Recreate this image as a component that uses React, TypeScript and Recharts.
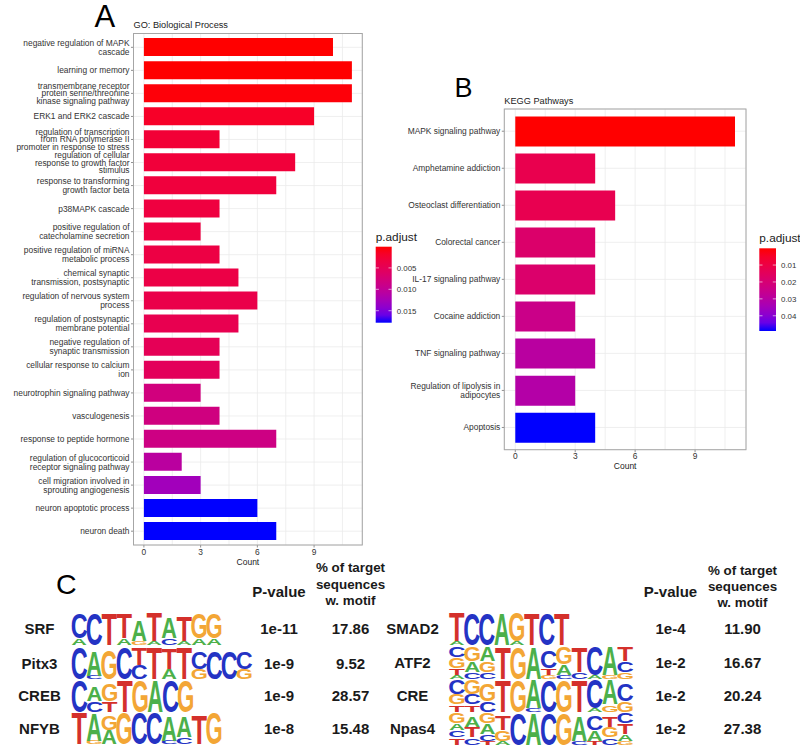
import React from "react"
import { BarChart, Bar, XAxis, YAxis, CartesianGrid, Cell } from "recharts"

// ---- GO: Biological Process ----
const goTerms = [
  "negative regulation of MAPK\ncascade",
  "learning or memory",
  "transmembrane receptor\nprotein serine/threonine\nkinase signaling pathway",
  "ERK1 and ERK2 cascade",
  "regulation of transcription\nfrom RNA polymerase II\npromoter in response to stress",
  "regulation of cellular\nresponse to growth factor\nstimulus",
  "response to transforming\ngrowth factor beta",
  "p38MAPK cascade",
  "positive regulation of\ncatecholamine secretion",
  "positive regulation of miRNA\nmetabolic process",
  "chemical synaptic\ntransmission, postsynaptic",
  "regulation of nervous system\nprocess",
  "regulation of postsynaptic\nmembrane potential",
  "negative regulation of\nsynaptic transmission",
  "cellular response to calcium\nion",
  "neurotrophin signaling pathway",
  "vasculogenesis",
  "response to peptide hormone",
  "regulation of glucocorticoid\nreceptor signaling pathway",
  "cell migration involved in\nsprouting angiogenesis",
  "neuron apoptotic process",
  "neuron death",
]
const goCounts = [10, 11, 11, 9, 4, 8, 7, 4, 3, 4, 5, 6, 5, 4, 4, 3, 4, 7, 2, 3, 6, 7]
const goPadj = [
  0.00005, 0.00005, 0.0003, 0.0017, 0.0026, 0.0029, 0.0031, 0.0033, 0.0035, 0.0036, 0.0038,
  0.0041, 0.0045, 0.005, 0.0053, 0.008, 0.0082, 0.0085, 0.0107, 0.0128, 0.0178, 0.0178,
]
const goBreaks = [0.005, 0.01, 0.015]
const goBreakLabels = ["0.005", "0.010", "0.015"]

// ---- KEGG Pathways ----
const keggTerms = [
  "MAPK signaling pathway",
  "Amphetamine addiction",
  "Osteoclast differentiation",
  "Colorectal cancer",
  "IL-17 signaling pathway",
  "Cocaine addiction",
  "TNF signaling pathway",
  "Regulation of lipolysis in\nadipocytes",
  "Apoptosis",
]
const keggCounts = [11, 4, 5, 4, 4, 3, 4, 3, 4]
const keggPadj = [0.0001, 0.012, 0.0125, 0.018, 0.0182, 0.0245, 0.0295, 0.031, 0.049]
const keggBreaks = [0.01, 0.02, 0.03, 0.04]
const keggBreakLabels = ["0.01", "0.02", "0.03", "0.04"]

const countTicks = [0, 3, 6, 9]
const gridTicks = [0, 1.5, 3, 4.5, 6, 7.5, 9, 10.5]

// ---- motif table ----
const motifNamesLeft = ["SRF", "Pitx3", "CREB", "NFYB"]
const motifPvalLeft = ["1e-11", "1e-9", "1e-9", "1e-8"]
const motifPctLeft = ["17.86", "9.52", "28.57", "15.48"]
const motifLogosLeft = [
  ["C7A2", "C9", "T9", "T7A2", "A6G1", "T8A1", "A6C2", "T7A1", "G7A2", "G7A2"],
  ["C9", "A7C1", "G8", "C9", "T5C4", "T9", "T6A3", "T9", "C5G3", "C8", "C8", "C5G3"],
  ["C9", "A4C3", "G5T3", "T9", "G9", "A9", "C9", "G9"],
  ["T9", "A8G1", "G4A4", "G9", "C9", "C9", "A7C1", "A6C2", "T8", "G9"],
]
const motifNamesRight = ["SMAD2", "ATF2", "CRE", "Npas4"]
const motifPvalRight = ["1e-4", "1e-2", "1e-2", "1e-2"]
const motifPctRight = ["11.90", "16.67", "20.24", "27.38"]
const motifLogosRight = [
  ["T8A1", "C9", "C9", "A9", "G8A1", "T9", "C9", "T9"],
  ["C3G3T2A1", "G4A3C2", "A4G3C2", "T9", "G9", "A9", "C5T2G1", "G5A3C1", "T7C2", "C8A1", "A8G1", "T4C3G2"],
  ["C4G3T2", "G4C3T2", "G5C3", "T9", "G9", "A8C1", "C9", "G9", "T9", "C8A1", "A7G2", "C5G3"],
  ["G3A2C2T2", "A3T3C2", "G3A3C2T1", "T4G3A1", "C9", "A9", "C9", "G9", "A7C1", "C4A3T1", "T3G3C2", "C3T3A2G1"],
]

const FONT = "'Liberation Sans', Arial, Helvetica, sans-serif"
const LETTER_COLORS: Record<string, string> = { A: "#4cb04a", C: "#2433c4", G: "#f3a635", T: "#d4302b" }
const LETTER_INK: Record<string, number> = { A: 6.9, C: 6.4, G: 6.8, T: 5.9 }

// ggplot-like red -> blue ramp interpolated in CIELAB
function toLin(c: number) {
  c /= 255
  return c <= 0.04045 ? c / 12.92 : Math.pow((c + 0.055) / 1.055, 2.4)
}
function fromLin(c: number) {
  const v = c <= 0.0031308 ? 12.92 * c : 1.055 * Math.pow(c, 1 / 2.4) - 0.055
  return Math.round(Math.max(0, Math.min(1, v)) * 255)
}
function rgbToLab(rgb: number[]) {
  const [r, g, b] = rgb.map(toLin)
  const X = (0.4124 * r + 0.3576 * g + 0.1805 * b) / 0.95047
  const Y = 0.2126 * r + 0.7152 * g + 0.0722 * b
  const Z = (0.0193 * r + 0.1192 * g + 0.9505 * b) / 1.08883
  const f = (t: number) => (t > 0.008856 ? Math.cbrt(t) : 7.787 * t + 16 / 116)
  const fx = f(X), fy = f(Y), fz = f(Z)
  return [116 * fy - 16, 500 * (fx - fy), 200 * (fy - fz)]
}
function labToRgb([L, a, b]: number[]) {
  const fy = (L + 16) / 116
  const fx = fy + a / 500
  const fz = fy - b / 200
  const inv = (t: number) => (t ** 3 > 0.008856 ? t ** 3 : (t - 16 / 116) / 7.787)
  const X = inv(fx) * 0.95047, Y = inv(fy), Z = inv(fz) * 1.08883
  const r = 3.2406 * X - 1.5372 * Y - 0.4986 * Z
  const g = -0.9689 * X + 1.8758 * Y + 0.0415 * Z
  const bb = 0.0557 * X - 0.204 * Y + 1.057 * Z
  return `rgb(${fromLin(r)},${fromLin(g)},${fromLin(bb)})`
}
const LAB_LOW = rgbToLab([255, 0, 0])
const LAB_HIGH = rgbToLab([0, 0, 255])
function ramp(t: number) {
  return labToRgb(LAB_LOW.map((v, i) => v + (LAB_HIGH[i] - v) * t))
}
function padjColor(p: number, all: number[]) {
  const lo = Math.min(...all), hi = Math.max(...all)
  return ramp((p - lo) / (hi - lo))
}

const YTick = (props: any) => {
  const { x, y, payload } = props
  const lines = String(payload.value).split("\n")
  const lh = lines.length > 2 ? 7.6 : 9
  return (
    <g>
      <line x1={x - 2.5} x2={x} y1={y} y2={y} stroke="#444" strokeWidth={0.6} />
      <text textAnchor="end" fontSize={8.4} fill="#333" fontFamily={FONT}>
        {lines.map((l, i) => (
          <tspan key={i} x={x - 4} y={y + (i - (lines.length - 1) / 2) * lh + 3}>
            {l}
          </tspan>
        ))}
      </text>
    </g>
  )
}

const XTick = (props: any) => {
  const { x, y, payload } = props
  if (!countTicks.includes(payload.value)) return <g />
  return (
    <g>
      <line x1={x} x2={x} y1={y} y2={y + 2.5} stroke="#444" strokeWidth={0.6} />
      <text x={x} y={y + 9.6} textAnchor="middle" fontSize={8.4} fill="#333" fontFamily={FONT}>
        {payload.value}
      </text>
    </g>
  )
}

type Plot = { x0: number; x1: number; y0: number; y1: number }

function EnrichBar(p: {
  terms: string[]
  counts: number[]
  padj: number[]
  left: number
  top: number
  width: number
  height: number
  plot: Plot
}) {
  const { terms, counts, padj, left, top, width, height, plot } = p
  const data = terms.map((t, i) => ({ term: t, count: counts[i], padj: padj[i] }))
  const pad = ((plot.y1 - plot.y0) * 0.1) / (terms.length + 0.2)
  return (
    <div style={{ position: "absolute", left, top, width, height }}>
      <BarChart
        width={width}
        height={height}
        data={data}
        layout="vertical"
        barCategoryGap="10%"
        margin={{ top: plot.y0 - top, right: left + width - plot.x1, bottom: 0, left: 0 }}
      >
        <CartesianGrid stroke="#ebebeb" strokeWidth={0.8} />
        <XAxis
          type="number"
          dataKey="count"
          domain={[-0.55, 11.55]}
          ticks={gridTicks}
          allowDataOverflow
          interval={0}
          height={top + height - plot.y1}
          axisLine={false}
          tickLine={false}
          tickSize={0}
          tickMargin={0}
          tick={<XTick />}
        />
        <YAxis
          type="category"
          dataKey="term"
          width={plot.x0 - left}
          interval={0}
          padding={{ top: pad, bottom: pad }}
          axisLine={false}
          tickLine={false}
          tickSize={0}
          tickMargin={0}
          tick={<YTick />}
        />
        <Bar dataKey="count" isAnimationActive={false}>
          {data.map((d) => (
            <Cell key={d.term} fill={padjColor(d.padj, padj)} />
          ))}
        </Bar>
      </BarChart>
    </div>
  )
}

function ColorBar(p: {
  id: string
  x: number
  y: number
  w: number
  h: number
  padj: number[]
  breaks: number[]
  labels: string[]
}) {
  const { id, x, y, w, h, padj, breaks, labels } = p
  const lo = Math.min(...padj), hi = Math.max(...padj)
  const stops = Array.from({ length: 11 }, (_, i) => i / 10)
  return (
    <g>
      <defs>
        <linearGradient id={id} x1="0" y1="0" x2="0" y2="1">
          {stops.map((s) => (
            <stop key={s} offset={s} stopColor={ramp(s)} />
          ))}
        </linearGradient>
      </defs>
      <text x={x} y={y - 6} fontSize={11.8} fill="#222" fontFamily={FONT}>
        p.adjust
      </text>
      <rect x={x} y={y} width={w} height={h} fill={`url(#${id})`} />
      {breaks.map((b, i) => {
        const yy = y + ((b - lo) / (hi - lo)) * h
        return (
          <g key={b}>
            <line x1={x} x2={x + 3.2} y1={yy} y2={yy} stroke="#fff" strokeWidth={0.6} />
            <line x1={x + w - 3.2} x2={x + w} y1={yy} y2={yy} stroke="#fff" strokeWidth={0.6} />
            <text x={x + w + 5} y={yy + 2.8} fontSize={7.9} fill="#333" fontFamily={FONT}>
              {labels[i]}
            </text>
          </g>
        )
      })}
    </g>
  )
}

function Logo({ x, yc, cols, colW }: { x: number; yc: number; cols: string[]; colW: number }) {
  const H = 32
  const unit = H / 9
  const bottom = yc + 16
  return (
    <g>
      {cols.map((c, ci) => {
        const parts = Array.from(c.matchAll(/([ACGT])(\d)/g)).map((m) => ({ l: m[1], w: Number(m[2]) }))
        let yb = bottom
        const out: any[] = []
        for (let k = parts.length - 1; k >= 0; k--) {
          const { l, w } = parts[k]
          const hh = w * unit
          const sx = colW / LETTER_INK[l]
          const sy = hh / 7.16
          out.push(
            <text
              key={k}
              x={0}
              y={0}
              textAnchor="middle"
              fontSize={10}
              fontWeight="bold"
              fontFamily={FONT}
              fill={LETTER_COLORS[l]}
              transform={`translate(${x + ci * colW + colW / 2},${yb}) scale(${sx},${sy})`}
            >
              {l}
            </text>
          )
          yb -= hh
        }
        return <g key={ci}>{out}</g>
      })}
    </g>
  )
}

function MotifTable(p: {
  names: string[]
  logos: string[][]
  pvals: string[]
  pcts: string[]
  rows: number[]
  nameX: number
  logoX: number
  colWs: number[]
  pvalX: number
  pctX: number
  headY: number[]
}) {
  const { names, logos, pvals, pcts, rows, nameX, logoX, colWs, pvalX, pctX, headY } = p
  const bold = { fontFamily: FONT, fontWeight: "bold" as const, fill: "#1a1a1a" }
  return (
    <g>
      <text x={pvalX} y={597} textAnchor="middle" fontSize={15} {...bold}>
        P-value
      </text>
      {["% of target", "sequences", "w. motif"].map((t, i) => (
        <text key={t} x={pctX} y={headY[i]} textAnchor="middle" fontSize={13.4} {...bold}>
          {t}
        </text>
      ))}
      {names.map((n, i) => (
        <g key={n}>
          <text x={nameX} y={rows[i] + 5.4} textAnchor="middle" fontSize={15} {...bold}>
            {n}
          </text>
          <Logo x={logoX} yc={rows[i]} cols={logos[i]} colW={colWs[i]} />
          <text x={pvalX} y={rows[i] + 5.4} textAnchor="middle" fontSize={15} {...bold}>
            {pvals[i]}
          </text>
          <text x={pctX} y={rows[i] + 5.4} textAnchor="middle" fontSize={15} {...bold}>
            {pcts[i]}
          </text>
        </g>
      ))}
    </g>
  )
}

const plotA: Plot = { x0: 133.5, x1: 362.3, y0: 33.5, y1: 545 }
const plotB: Plot = { x0: 504.3, x1: 746, y0: 109, y1: 449.7 }

export default function App() {
  const txt = { fontFamily: FONT, fill: "#222" }
  return (
    <div style={{ position: "absolute", left: 0, top: 0, width: 800, height: 753, background: "#fff", overflow: "hidden" }}>
      <EnrichBar terms={goTerms} counts={goCounts} padj={goPadj} left={0} top={0} width={370} height={575} plot={plotA} />
      <EnrichBar terms={keggTerms} counts={keggCounts} padj={keggPadj} left={380} top={60} width={374} height={420} plot={plotB} />
      <svg width={800} height={753} style={{ position: "absolute", left: 0, top: 0, pointerEvents: "none" }}>
        <text x={94.5} y={26.5} fontSize={31} {...txt} fill="#000">A</text>
        <text x={454.5} y={97.3} fontSize={27} {...txt} fill="#000">B</text>
        <text x={56} y={593.5} fontSize={28.5} {...txt} fill="#000">C</text>

        <text x={plotA.x0} y={28.3} fontSize={9.2} {...txt}>GO: Biological Process</text>
        <text x={plotB.x0} y={104.3} fontSize={9.2} {...txt}>KEGG Pathways</text>
        <text x={(plotA.x0 + plotA.x1) / 2} y={565} textAnchor="middle" fontSize={8.5} {...txt}>Count</text>
        <text x={(plotB.x0 + plotB.x1) / 2} y={469.3} textAnchor="middle" fontSize={8.5} {...txt}>Count</text>

        <rect x={plotA.x0} y={plotA.y0} width={plotA.x1 - plotA.x0} height={plotA.y1 - plotA.y0} fill="none" stroke="#a6a6a6" strokeWidth={1} />
        <rect x={plotB.x0} y={plotB.y0} width={plotB.x1 - plotB.x0} height={plotB.y1 - plotB.y0} fill="none" stroke="#a6a6a6" strokeWidth={1} />

        <ColorBar id="gradA" x={375.7} y={246.7} w={16} h={76} padj={goPadj} breaks={goBreaks} labels={goBreakLabels} />
        <ColorBar id="gradB" x={759.3} y={248.3} w={16.7} h={82.7} padj={keggPadj} breaks={keggBreaks} labels={keggBreakLabels} />

        <MotifTable
          names={motifNamesLeft}
          logos={motifLogosLeft}
          pvals={motifPvalLeft}
          pcts={motifPctLeft}
          rows={[629, 663.3, 696, 728.3]}
          nameX={39.5}
          logoX={71.7}
          colWs={[15, 15, 15.2, 15]}
          pvalX={279}
          pctX={350.5}
          headY={[572, 588.5, 605]}
        />
        <MotifTable
          names={motifNamesRight}
          logos={motifLogosRight}
          pvals={motifPvalRight}
          pcts={motifPctRight}
          rows={[628.7, 662.7, 695.5, 728.5]}
          nameX={412.5}
          logoX={449.3}
          colWs={[15, 15.3, 15.3, 15.3]}
          pvalX={670.5}
          pctX={742.5}
          headY={[574.5, 590.5, 606.5]}
        />
      </svg>
    </div>
  )
}
